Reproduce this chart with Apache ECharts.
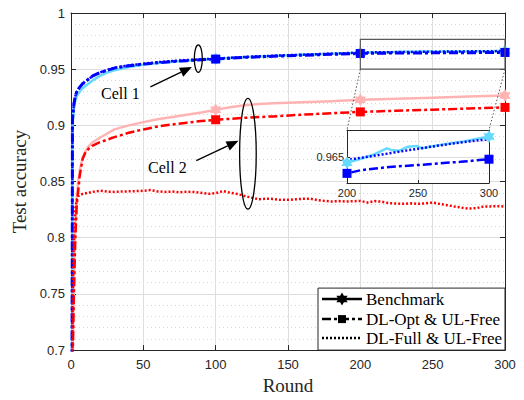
<!DOCTYPE html>
<html><head><meta charset="utf-8">
<script src="https://cdn.jsdelivr.net/npm/echarts@6/dist/echarts.min.js"></script>
<style>html,body{margin:0;padding:0;background:#fff}#c{width:524px;height:400px}</style>
</head><body><div id="c"></div>
<script>
// ---------- data ----------
const xTicks = [0, 50, 100, 150, 200, 250, 300];
const yTicks = [0.7, 0.75, 0.8, 0.85, 0.9, 0.95, 1];
const insetXTicks = [200, 250, 300];
const insetYTicks = [0.965];
const insetYGrid = [0.964, 0.966];
const markerRounds = [100, 200, 300];
const legendNames = ['Benchmark', 'DL-Opt & UL-Free', 'DL-Full & UL-Free'];

const blueRounds = [0,1,2,3,4,5,6,8,10,12,15,20,25,30,40,50,60,70,80,90,100,120,140,160,180,200,210,220,230,240,250,260,270,280,290,300];
const cell1Opt  = [0.1,0.905,0.919,0.926,0.930,0.932,0.934,0.937,0.939,0.941,0.944,0.947,0.949,0.951,0.953,0.9545,0.9558,0.9568,0.9576,0.9584,0.959,0.9605,0.9615,0.9624,0.9632,0.9640,0.9642,0.9643,0.9644,0.96446,0.96452,0.96458,0.96466,0.96472,0.9648,0.96488];
const cell1Full = [0.1,0.905,0.919,0.926,0.930,0.932,0.934,0.937,0.939,0.941,0.944,0.947,0.9493,0.9513,0.9534,0.9549,0.9562,0.9572,0.958,0.9588,0.9594,0.9609,0.962,0.9629,0.9638,0.96483,0.96497,0.96511,0.96525,0.9654,0.96553,0.96567,0.9658,0.96592,0.96603,0.96613];

const cell1BenchRounds = [0,1,2,3,4,5,6,8,10,12,15,20,25,30,40,50,60,70,80,90,100,120,140,160,180,200,211,218,228,231,237,243,249,253,258,270,282,300];
const cell1Bench = [0.1,0.90,0.915,0.922,0.926,0.928,0.930,0.933,0.935,0.937,0.940,0.944,0.947,0.949,0.952,0.954,0.9555,0.9567,0.9576,0.9585,0.9592,0.9607,0.9618,0.9628,0.9637,0.96466,0.96494,0.96514,0.96556,0.96546,0.96541,0.96566,0.96571,0.96556,0.96566,0.96583,0.96598,0.96629];

const redRounds = [0,1,2,3,4,5,6,8,10,12,15,20,30,40,50,60,70,80,90,100,110,120,130,140,160,180,200,225,250,275,300];
const cell2Opt   = [0.1,0.68,0.75,0.80,0.83,0.842,0.855,0.870,0.876,0.879,0.882,0.885,0.8895,0.8935,0.8964,0.899,0.9008,0.9024,0.9038,0.905,0.9058,0.9067,0.9074,0.908,0.9095,0.9108,0.912,0.913,0.914,0.915,0.916];
const cell2Bench = [0.1,0.69,0.76,0.81,0.836,0.850,0.860,0.871,0.877,0.881,0.885,0.889,0.8964,0.900,0.9029,0.9055,0.9075,0.9095,0.9115,0.9138,0.9162,0.918,0.919,0.9197,0.9205,0.9215,0.9227,0.9237,0.9246,0.9256,0.9265];

const cell2FullRounds = [0,1,2,3,4,5,6,8,10,12,15,20,25,30,35,40,45,50,55,60,65,70,75,80,85,90,95,100,105,110,115,120,125,130,135,140,145,150,155,160,165,170,175,180,185,190,195,200,205,210,215,220,225,230,235,240,245,250,255,260,265,270,275,280,285,290,295,300];
const cell2Full = [0.1,0.74,0.80,0.826,0.834,0.837,0.838,0.839,0.8395,0.8400,0.8408,
  0.8418,0.8410,0.8408,0.8411,0.8413,0.8415,0.8418,0.8424,0.8412,0.8408,
  0.8411,0.8404,0.8409,0.8407,0.8400,0.8391,0.8396,0.8415,0.8401,0.8389,
  0.8372,0.8356,0.8342,0.8348,0.8345,0.8337,0.8337,0.8342,0.8346,0.8348,
  0.8336,0.8328,0.8322,0.8326,0.8322,0.8325,0.8328,0.8313,0.8326,0.8320,
  0.8307,0.8304,0.8302,0.8306,0.8302,0.8306,0.8313,0.8300,0.8290,0.8278,
  0.8268,0.8259,0.8263,0.8277,0.8279,0.8281,0.8278];

// ---------- styles ----------
const SANS = "'Liberation Sans', Arial, sans-serif";
const SERIF = "'Liberation Serif', 'Times New Roman', serif";
const AX = '#262626';
const C = {blue:'#0000ff', red:'#ff0000', cyan:'#66d9ff', pink:'#ffb3b3'};
const DASHDOT = [9,3,3,3];
const DOT = [2,2];
const STAR = 'path://M0,-10 L2.89,-5 L8.66,-5 L5.77,0 L8.66,5 L2.89,5 L0,10 L-2.89,5 L-8.66,5 L-5.77,0 L-8.66,-5 L-2.89,-5 Z';

function pairs(r, v) { return r.map((x, i) => [x, v[i]]); }
function pick(r, v, keep) { return pairs(r, v).filter(p => keep.indexOf(p[0]) >= 0); }

function lineS(rounds, vals, color, type, width, xi, yi, z) {
  return {type:'line', xAxisIndex:xi, yAxisIndex:yi, data:pairs(rounds, vals), showSymbol:false, symbol:'none',
    lineStyle:{color:color, width:width, type:type, cap:'butt', join:'round'}, itemStyle:{color:color},
    silent:true, z:z, clip:true, animation:false};
}
function markS(rounds, vals, keep, color, symbol, size, xi, yi, z) {
  return {type:'scatter', xAxisIndex:xi, yAxisIndex:yi, data:pick(rounds, vals, keep), symbol:symbol, symbolSize:size,
    symbolKeepAspect:true, itemStyle:{color:color, opacity:1}, silent:true, z:z, clip:false, animation:false};
}

const chart = echarts.init(document.getElementById('c'), null, {renderer:'svg', width:524, height:400});

const mainAxisCommon = {
  axisLine:{show:true, onZero:false, lineStyle:{color:AX, width:1}},
  axisTick:{show:true, inside:true, length:5, lineStyle:{color:AX}},
};

const option = {
  animation:false,
  backgroundColor:'#fff',
  grid:[
    {left:71, top:13, width:434, height:343, containLabel:false},
    {left:347, top:130, width:142, height:53, show:true, backgroundColor:'#fff', borderWidth:0, z:5}
  ],
  xAxis:[
    Object.assign({type:'value', gridIndex:0, position:'bottom', min:xTicks[0], max:xTicks[xTicks.length-1], interval:xTicks[1]-xTicks[0],
      name:'Round', nameLocation:'middle', nameGap:24, nameTextStyle:{fontFamily:SERIF, fontSize:19, color:AX},
      axisLabel:{fontFamily:SANS, fontSize:13, color:AX, margin:8},
      splitLine:{show:true, lineStyle:{color:'#dedede', width:1}}}, mainAxisCommon),
    Object.assign({type:'value', gridIndex:0, position:'top', min:xTicks[0], max:xTicks[xTicks.length-1], interval:xTicks[1]-xTicks[0],
      axisLabel:{show:false}, splitLine:{show:false}}, mainAxisCommon),
    {type:'value', gridIndex:1, position:'bottom', min:insetXTicks[0], max:insetXTicks[insetXTicks.length-1], interval:insetXTicks[1]-insetXTicks[0], z:7,
      axisLine:{show:true, onZero:false, lineStyle:{color:AX, width:1}},
      axisTick:{show:true, inside:true, length:3, lineStyle:{color:AX}},
      axisLabel:{fontFamily:SANS, fontSize:11, color:AX, margin:4},
      splitLine:{show:true, lineStyle:{color:'#dedede', width:1}}},
    {type:'value', gridIndex:1, position:'top', min:insetXTicks[0], max:insetXTicks[insetXTicks.length-1], interval:insetXTicks[1]-insetXTicks[0], z:7,
      axisLine:{show:true, onZero:false, lineStyle:{color:AX, width:1}},
      axisTick:{show:false}, axisLabel:{show:false}, splitLine:{show:false}}
  ],
  yAxis:[
    Object.assign({type:'value', gridIndex:0, position:'left', min:yTicks[0], max:yTicks[yTicks.length-1], interval:0.05,
      name:'Test accuracy', nameLocation:'middle', nameGap:38, nameTextStyle:{fontFamily:SERIF, fontSize:19, color:AX},
      axisLabel:{fontFamily:SANS, fontSize:13, color:AX, margin:6},
      splitLine:{show:true, lineStyle:{color:'#dedede', width:1}},
      minorTick:{show:false, splitNumber:5},
      minorSplitLine:{show:true, lineStyle:{color:'#d4d4d4', width:1, type:[1,3]}}}, mainAxisCommon),
    Object.assign({type:'value', gridIndex:0, position:'right', min:yTicks[0], max:yTicks[yTicks.length-1], interval:0.05,
      axisLabel:{show:false}, splitLine:{show:false}}, mainAxisCommon),
    {type:'value', gridIndex:1, position:'left', min:0.9634, max:0.9667, z:7,
      axisLine:{show:true, onZero:false, lineStyle:{color:AX, width:1}},
      axisTick:{show:true, inside:true, length:3, customValues:insetYTicks, lineStyle:{color:AX}},
      axisLabel:{fontFamily:SANS, fontSize:11, color:AX, margin:3, customValues:insetYTicks, formatter:v => v.toFixed(3)},
      splitLine:{show:true, lineStyle:{color:'#dedede', width:1}}},
    {type:'value', gridIndex:1, position:'right', min:0.9634, max:0.9667, z:7,
      axisLine:{show:true, onZero:false, lineStyle:{color:AX, width:1}},
      axisTick:{show:false, customValues:insetYGrid}, axisLabel:{show:false, customValues:insetYGrid},
      splitLine:{show:true, lineStyle:{color:'#cfcfcf', width:1, type:[1,3]}}}
  ],
  series:[
    lineS(cell1BenchRounds, cell1Bench, C.cyan, 'solid', 2.5, 0, 0, 2),
    lineS(redRounds, cell2Bench, C.pink, 'solid', 2.5, 0, 0, 2),
    lineS(blueRounds, cell1Opt, C.blue, DASHDOT, 3, 0, 0, 3),
    lineS(redRounds, cell2Opt, C.red, DASHDOT, 2.5, 0, 0, 3),
    lineS(blueRounds, cell1Full, C.blue, DOT, 2.5, 0, 0, 3),
    lineS(cell2FullRounds, cell2Full, C.red, DOT, 2.5, 0, 0, 3),
    markS(cell1BenchRounds, cell1Bench, markerRounds, C.cyan, STAR, 13, 0, 0, 3),
    markS(redRounds, cell2Bench, markerRounds, C.pink, STAR, 13, 0, 0, 3),
    markS(blueRounds, cell1Opt, markerRounds, C.blue, 'rect', 9, 0, 0, 4),
    markS(redRounds, cell2Opt, markerRounds, C.red, 'rect', 9, 0, 0, 4),
    // inset
    lineS(cell1BenchRounds, cell1Bench, C.cyan, 'solid', 2.5, 2, 2, 8),
    lineS(blueRounds, cell1Opt, C.blue, DASHDOT, 2.5, 2, 2, 8),
    lineS(blueRounds, cell1Full, C.blue, DOT, 2.5, 2, 2, 8),
    markS(cell1BenchRounds, cell1Bench, [200, 300], C.cyan, STAR, 13, 2, 2, 9),
    markS(blueRounds, cell1Opt, [200, 300], C.blue, 'rect', 9, 2, 2, 9)
  ]
};
chart.setOption(option);

// ---------- annotations (positioned in data coordinates) ----------
const ann = {
  zoomBox: {x0:200, x1:300, y0:0.95, y1:0.9766},
  insetTop: 0.9667,
  cell1: {text:[34.1, 0.9284], ellipse:[88, 0.9594], rx:4, ry:13.7, from:[54.9, 0.9343], to:[83.6, 0.9519]},
  cell2: {text:[66.6, 0.8628], ellipse:[122.3, 0.8748], rx:8.3, ry:55.3, from:[86.6, 0.8687], to:[115.8, 0.8862]}
};
const P0 = (x, y) => chart.convertToPixel({gridIndex:0}, [x, y]);
const P1 = (x, y) => chart.convertToPixel({gridIndex:1}, [x, y]);

function arrow(a, b) {
  const [x0, y0] = a, [x1, y1] = b;
  const dx = x1 - x0, dy = y1 - y0, L = Math.hypot(dx, dy), ux = dx / L, uy = dy / L;
  const hl = 12, hw = 5;
  const bx = x1 - ux * hl, by = y1 - uy * hl;
  return [
    {type:'line', shape:{x1:x0, y1:y0, x2:bx, y2:by}, style:{stroke:'#000', lineWidth:1.3}, z:100, silent:true},
    {type:'polygon', shape:{points:[[x1, y1], [bx - uy * hw, by + ux * hw], [bx + uy * hw, by - ux * hw]]}, style:{fill:'#000'}, z:100, silent:true}
  ];
}
function starPts(cx, cy, r) {
  const pts = [];
  for (let k = 0; k < 12; k++) {
    const ang = -Math.PI / 2 + k * Math.PI / 6;
    const rr = (k % 2 === 0) ? r : r / Math.sqrt(3);
    pts.push([cx + rr * Math.cos(ang), cy + rr * Math.sin(ang)]);
  }
  return pts;
}

const g = [];
const zb = ann.zoomBox;
const bl = P0(zb.x0, zb.y0), tr = P0(zb.x1, zb.y1), br = P0(zb.x1, zb.y0);
g.push({type:'rect', shape:{x:bl[0], y:tr[1], width:tr[0] - bl[0], height:bl[1] - tr[1]}, style:{fill:null, stroke:'#5a5a5a', lineWidth:1.2}, z:100, silent:true});
const itl = P1(zb.x0, ann.insetTop), itr = P1(zb.x1, ann.insetTop);
g.push({type:'line', shape:{x1:bl[0], y1:bl[1], x2:itl[0], y2:itl[1]}, style:{stroke:'#555', lineWidth:1, lineDash:[1.5, 2]}, z:100, silent:true});
g.push({type:'line', shape:{x1:br[0], y1:br[1], x2:itr[0], y2:itr[1]}, style:{stroke:'#555', lineWidth:1, lineDash:[1.5, 2]}, z:100, silent:true});

[ann.cell1, ann.cell2].forEach((c, i) => {
  const e = P0(c.ellipse[0], c.ellipse[1]);
  g.push({type:'ellipse', shape:{cx:e[0], cy:e[1], rx:c.rx, ry:c.ry}, style:{fill:null, stroke:'#000', lineWidth:1.3}, z:100, silent:true});
  arrow(P0(c.from[0], c.from[1]), P0(c.to[0], c.to[1])).forEach(el => g.push(el));
  const t = P0(c.text[0], c.text[1]);
  g.push({type:'text', x:t[0], y:t[1], style:{text:'Cell ' + (i + 1), font:'16px ' + SERIF, fill:'#000', align:'center', verticalAlign:'middle'}, z:100, silent:true});
});

// legend box anchored to bottom-right of plot
const corner = P0(xTicks[xTicks.length - 1], yTicks[0]);
const LW = 187, LH = 62;
const L = corner[0] - LW, T = corner[1] - LH;
g.push({type:'rect', shape:{x:L, y:T, width:LW, height:LH}, style:{fill:'#fff', stroke:AX, lineWidth:1}, z:110, silent:true});
const rowsY = [11, 31, 50];
const dashes = [null, DASHDOT, DOT];
rowsY.forEach((dy, i) => {
  const y = T + dy;
  g.push({type:'line', shape:{x1:L + 4, y1:y, x2:L + 44, y2:y}, style:{stroke:'#000', lineWidth:2.5, lineDash:dashes[i], lineCap:'butt'}, z:111, silent:true});
  if (i === 0) g.push({type:'polygon', shape:{points:starPts(L + 24, y, 6.5)}, style:{fill:'#000'}, z:112, silent:true});
  if (i === 1) g.push({type:'rect', shape:{x:L + 24 - 4, y:y - 4, width:8, height:8}, style:{fill:'#000'}, z:112, silent:true});
  g.push({type:'text', x:L + 48, y:y, style:{text:legendNames[i], font:'17px ' + SERIF, fill:'#000', align:'left', verticalAlign:'middle'}, z:112, silent:true});
});

chart.setOption({graphic:{elements:g}});
</script></body></html>
